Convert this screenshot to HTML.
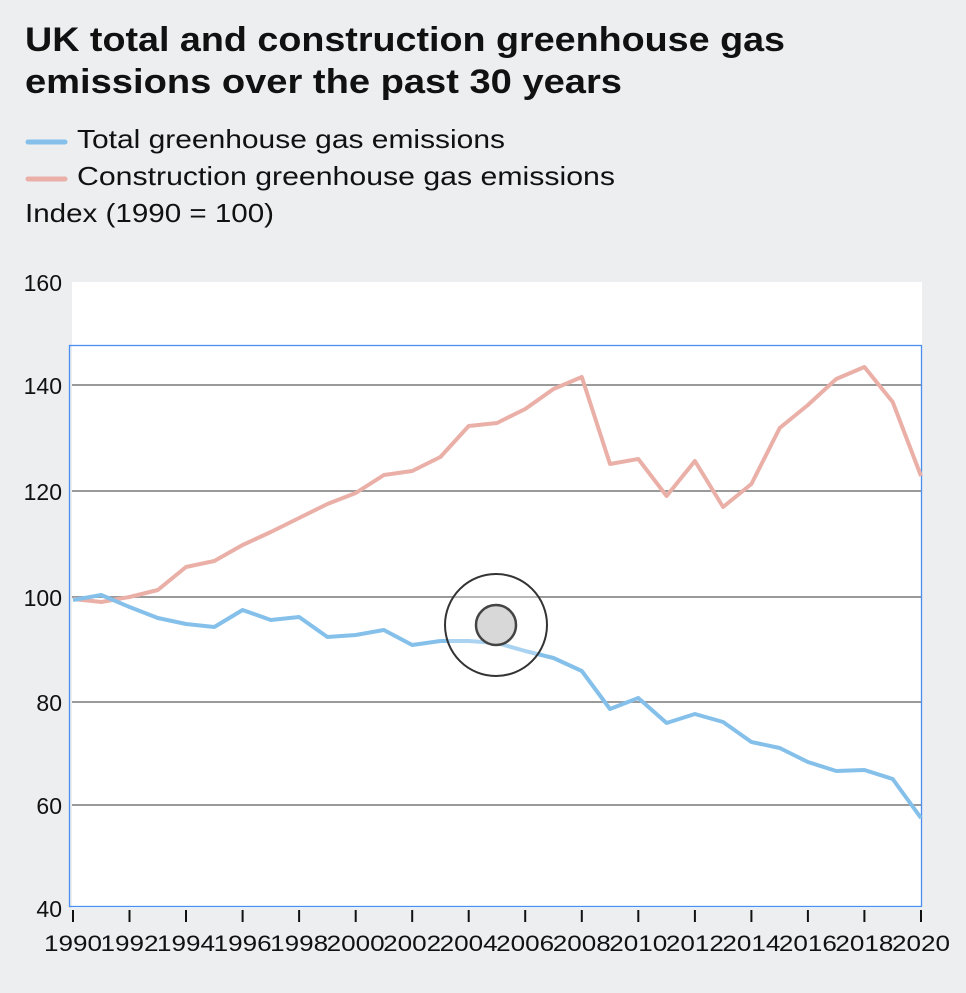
<!DOCTYPE html>
<html><head><meta charset="utf-8"><style>
html,body{margin:0;padding:0;background:#edeef0;}
body{width:966px;height:988px;overflow:hidden;font-family:"Liberation Sans",sans-serif;}
</style></head><body>
<svg width="966" height="988" xmlns="http://www.w3.org/2000/svg" font-family="Liberation Sans, sans-serif">
<rect width="966" height="988" fill="#edeef0"/>
<text x="25" y="51" font-size="34" font-weight="bold" fill="#111" textLength="760" lengthAdjust="spacingAndGlyphs">UK total and construction greenhouse gas</text>
<text x="25" y="93" font-size="34" font-weight="bold" fill="#111" textLength="597" lengthAdjust="spacingAndGlyphs">emissions over the past 30 years</text>
<line x1="28" y1="142" x2="65" y2="142" stroke="#85c0ea" stroke-width="5" stroke-linecap="round"/>
<text x="77" y="148" font-size="26" fill="#111" textLength="428" lengthAdjust="spacingAndGlyphs">Total greenhouse gas emissions</text>
<line x1="28" y1="179" x2="65" y2="179" stroke="#eab0a8" stroke-width="5" stroke-linecap="round"/>
<text x="77" y="185" font-size="26" fill="#111" textLength="538" lengthAdjust="spacingAndGlyphs">Construction greenhouse gas emissions</text>
<text x="25" y="222" font-size="26" fill="#111" textLength="249" lengthAdjust="spacingAndGlyphs">Index (1990 = 100)</text>
<rect x="72" y="282" width="850" height="626" fill="#fff"/>
<g stroke="#9a9a9a" stroke-width="2">
<line x1="72" y1="385" x2="922" y2="385"/>
<line x1="72" y1="491" x2="922" y2="491"/>
<line x1="72" y1="597" x2="922" y2="597"/>
<line x1="72" y1="702" x2="922" y2="702"/>
<line x1="72" y1="805" x2="922" y2="805"/>
</g>
<rect x="69.5" y="345.5" width="852" height="561" fill="none" stroke="#4a8ef0" stroke-width="1.3"/>
<g font-size="23" fill="#111" text-anchor="end">
<text x="62" y="291">160</text><text x="62" y="394">140</text><text x="62" y="500">120</text>
<text x="62" y="606">100</text><text x="62" y="711">80</text><text x="62" y="814">60</text><text x="62" y="917">40</text>
</g>
<g stroke="#111" stroke-width="2">
<line x1="73" y1="910" x2="73" y2="922"/><line x1="129.5" y1="910" x2="129.5" y2="922"/><line x1="186" y1="910" x2="186" y2="922"/><line x1="242.6" y1="910" x2="242.6" y2="922"/><line x1="299.1" y1="910" x2="299.1" y2="922"/><line x1="355.7" y1="910" x2="355.7" y2="922"/><line x1="412.2" y1="910" x2="412.2" y2="922"/><line x1="468.7" y1="910" x2="468.7" y2="922"/><line x1="525.2" y1="910" x2="525.2" y2="922"/><line x1="581.8" y1="910" x2="581.8" y2="922"/><line x1="638.3" y1="910" x2="638.3" y2="922"/><line x1="694.9" y1="910" x2="694.9" y2="922"/><line x1="751.4" y1="910" x2="751.4" y2="922"/><line x1="807.9" y1="910" x2="807.9" y2="922"/><line x1="864.4" y1="910" x2="864.4" y2="922"/><line x1="921" y1="910" x2="921" y2="922"/>
</g>
<g font-size="22" fill="#111" text-anchor="middle">
<text x="73" y="951" textLength="58" lengthAdjust="spacingAndGlyphs">1990</text><text x="129.5" y="951" textLength="58" lengthAdjust="spacingAndGlyphs">1992</text><text x="186" y="951" textLength="58" lengthAdjust="spacingAndGlyphs">1994</text><text x="242.6" y="951" textLength="58" lengthAdjust="spacingAndGlyphs">1996</text><text x="299.1" y="951" textLength="58" lengthAdjust="spacingAndGlyphs">1998</text><text x="355.7" y="951" textLength="58" lengthAdjust="spacingAndGlyphs">2000</text><text x="412.2" y="951" textLength="58" lengthAdjust="spacingAndGlyphs">2002</text><text x="468.7" y="951" textLength="58" lengthAdjust="spacingAndGlyphs">2004</text><text x="525.2" y="951" textLength="58" lengthAdjust="spacingAndGlyphs">2006</text><text x="581.8" y="951" textLength="58" lengthAdjust="spacingAndGlyphs">2008</text><text x="638.3" y="951" textLength="58" lengthAdjust="spacingAndGlyphs">2010</text><text x="694.9" y="951" textLength="58" lengthAdjust="spacingAndGlyphs">2012</text><text x="751.4" y="951" textLength="58" lengthAdjust="spacingAndGlyphs">2014</text><text x="807.9" y="951" textLength="58" lengthAdjust="spacingAndGlyphs">2016</text><text x="864.4" y="951" textLength="58" lengthAdjust="spacingAndGlyphs">2018</text><text x="921" y="951" textLength="58" lengthAdjust="spacingAndGlyphs">2020</text>
</g>
<polyline fill="none" stroke="#eab0a8" stroke-width="4" stroke-linejoin="round" points="73,599 101.3,602 129.5,597 157.8,590 186,567 214.3,561 242.6,545 270.8,532 299.1,518 327.4,504 355.7,493 383.9,475 412.2,471 440.4,457 468.7,426 497,423 525.2,409 553.5,389 581.8,377 610,464 638.3,459 666.6,496 694.9,461 723.1,507 751.4,484 779.7,428 807.9,405 836.2,379 864.4,367 892.7,402 921,476"/>
<polyline fill="none" stroke="#85c0ea" stroke-width="4" stroke-linejoin="round" points="73,600 101.3,595 129.5,607 157.8,618 186,624 214.3,627 242.6,610 270.8,620 299.1,617 327.4,637 355.7,635 383.9,630 412.2,645 440.4,641 468.7,641 497,643 525.2,651 553.5,658 581.8,671 610,709 638.3,698 666.6,723 694.9,714 723.1,722 751.4,742 779.7,748 807.9,762 836.2,771 864.4,770 892.7,779 921,818"/>
<circle cx="496" cy="625" r="51" fill="#fff" fill-opacity="0.3" stroke="#333" stroke-width="2"/>
<circle cx="496" cy="625" r="20" fill="#d8d8d8" stroke="#444" stroke-width="2.5"/>
</svg>
</body></html>
